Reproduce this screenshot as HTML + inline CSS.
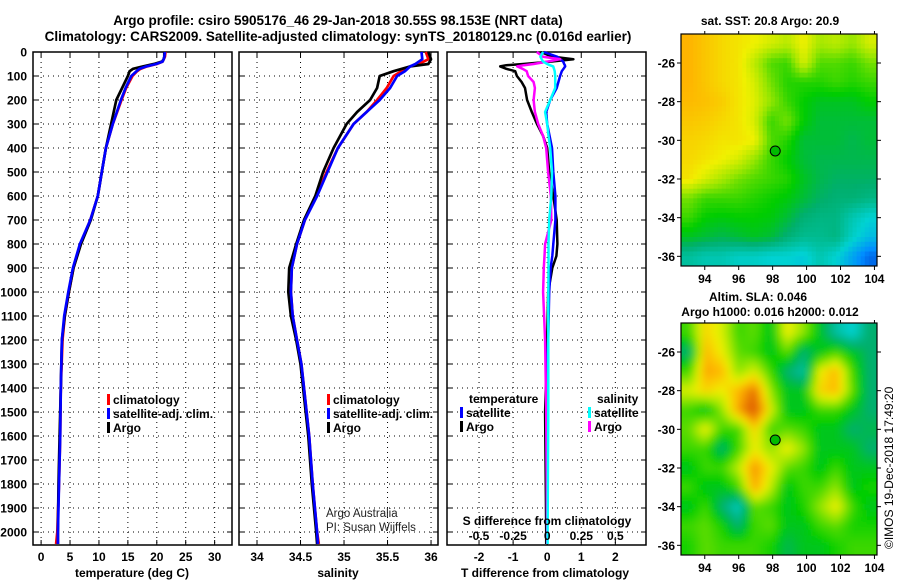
<!DOCTYPE html>
<html><head><meta charset="utf-8"><style>
html,body{margin:0;padding:0;background:#fff}
svg{display:block;font-family:"Liberation Sans",sans-serif}
.b{font-weight:bold;font-size:12px}
.t{font-weight:bold;font-size:13.5px}
</style></head><body>
<svg id="fig" width="900" height="580" viewBox="0 0 900 580" xmlns="http://www.w3.org/2000/svg">
<text class="t" x="338" y="25" text-anchor="middle">Argo profile: csiro 5905176_46 29-Jan-2018 30.55S 98.153E (NRT data)</text>
<text class="t" x="338" y="41" text-anchor="middle">Climatology: CARS2009. Satellite-adjusted climatology: synTS_20180129.nc (0.016d earlier)</text>
<g id="g"></g>
</svg>
<script>
// ---- data ----
const tDepth=[0,20,30,40,50,60,70,80,100,150,200,300,400,500,600,700,800,900,1000,1100,1200,1400,1600,1800,2000,2050];
const tClim=[21.5,21.4,21.2,21,20.0,18.3,17.2,16.6,15.8,14.7,13.9,12.4,11.2,10.5,9.8,8.5,6.8,5.6,4.8,4.1,3.7,3.4,3.3,3.1,2.8,2.6];
const tSat =[21.4,21.3,21.2,21,19.9,18.2,17.0,16.5,15.6,14.6,13.8,12.4,11.2,10.5,9.8,8.5,6.7,5.5,4.7,4.0,3.6,3.4,3.3,3.1,2.9,2.9];
const tArgo=[21.3,21.3,21.2,20.9,19.5,17.6,15.9,15.3,15.0,14.0,13.0,12.1,11.2,10.5,9.8,8.6,6.9,5.6,4.8,4.1,3.6,3.4,3.2,3.0,2.9,2.9];
const sDepth=[0,30,50,60,80,100,150,200,250,300,400,500,600,700,800,900,1000,1100,1200,1300,1400,1600,1800,2000,2050];
const sClim=[35.94,35.97,35.86,35.76,35.66,35.57,35.49,35.38,35.26,35.11,34.93,34.80,34.68,34.55,34.46,34.40,34.39,34.41,34.46,34.51,34.54,34.60,34.64,34.69,34.71];
const sSat =[35.89,35.90,35.82,35.76,35.70,35.61,35.53,35.41,35.26,35.11,34.93,34.81,34.69,34.55,34.46,34.40,34.39,34.41,34.46,34.51,34.54,34.60,34.64,34.69,34.70];
const sArgo=[35.97,36.00,35.97,35.76,35.57,35.41,35.38,35.30,35.15,35.03,34.88,34.76,34.67,34.54,34.45,34.37,34.36,34.39,34.45,34.50,34.53,34.59,34.63,34.68,34.69];
const dDepth=[0,20,30,40,50,55,60,70,80,100,125,150,200,250,300,350,400,500,600,700,800,850,900,1000,1200,1500,2000,2050];
const dT_argo=[-0.2,0.18,0.77,0.1,-0.7,-1.2,-1.38,-1.2,-0.94,-0.89,-0.75,-0.65,-0.59,-0.45,-0.3,-0.12,0,0.06,0.18,0.28,0.3,0.27,0.15,0.03,0,-0.06,-0.03,-0.03];
const dT_sat =[-0.1,0.3,0.38,0.47,0.5,0.52,0.53,0.48,0.43,0.38,0.33,0.28,0.09,-0.03,0,0.07,0.14,0.18,0.24,0.24,0.18,0.15,0.1,0.06,0.03,-0.03,0,0];
const dS_argo=[-0.076,-0.03,0.096,0,-0.1,-0.17,-0.22,-0.18,-0.15,-0.14,-0.1,-0.09,-0.1,-0.09,-0.066,-0.03,-0.007,0.007,0.027,0.03,-0.015,-0.02,-0.025,-0.03,-0.015,-0.007,0,0];
const dS_sat =[-0.03,-0.05,-0.04,-0.03,0,0.02,0.044,0.05,0.055,0.059,0.059,0.059,0.022,-0.015,0,0.01,0.022,0.035,0.03,0.015,0.01,0.01,0.01,0.008,0.008,0.008,0.003,0.003];
const yTicks=[0,100,200,300,400,500,600,700,800,900,1000,1100,1200,1300,1400,1500,1600,1700,1800,1900,2000];
const tTicks=[0,5,10,15,20,25,30];
const sTicks=[34,34.5,35,35.5,36];
const sTickLbl=["34","34.5","35","35.5","36"];
const dTTicks=[-2,-1,0,1,2];
const dSTicks=[-0.5,-0.25,0,0.25,0.5];
const dSTickLbl=["-0.5","-0.25","0","0.25","0.5"];
const lonTicks=[94,96,98,100,102,104];
const latTicks=[-26,-28,-30,-32,-34,-36];
const sstGrid=[
[0.88,0.85,0.82,0.8,0.78,0.75,0.72,0.78,0.7,0.72,0.68,0.75],
[0.88,0.85,0.82,0.8,0.72,0.62,0.6,0.75,0.62,0.62,0.6,0.65],
[0.88,0.85,0.82,0.8,0.75,0.65,0.58,0.58,0.58,0.6,0.58,0.6],
[0.87,0.86,0.84,0.8,0.76,0.68,0.6,0.55,0.52,0.52,0.52,0.55],
[0.85,0.84,0.82,0.8,0.75,0.6,0.65,0.55,0.5,0.5,0.5,0.5],
[0.83,0.82,0.8,0.8,0.78,0.62,0.58,0.5,0.5,0.5,0.48,0.5],
[0.82,0.8,0.78,0.75,0.68,0.6,0.55,0.5,0.48,0.48,0.48,0.48],
[0.8,0.75,0.7,0.65,0.62,0.6,0.58,0.52,0.48,0.46,0.46,0.46],
[0.65,0.6,0.6,0.6,0.58,0.56,0.54,0.5,0.46,0.44,0.44,0.42],
[0.6,0.55,0.54,0.55,0.55,0.54,0.5,0.44,0.42,0.42,0.35,0.3],
[0.52,0.5,0.48,0.5,0.52,0.5,0.44,0.4,0.4,0.42,0.32,0.25],
[0.38,0.35,0.35,0.32,0.32,0.3,0.3,0.28,0.35,0.3,0.2,0.1]];
const slaGrid=[
[0.6,0.75,0.7,0.6,0.62,0.55,0.72,0.65,0.55,0.45,0.4,0.5],
[0.5,0.78,0.72,0.62,0.6,0.55,0.62,0.5,0.55,0.6,0.55,0.5],
[0.6,0.8,0.78,0.65,0.7,0.6,0.5,0.45,0.72,0.78,0.6,0.5],
[0.7,0.75,0.72,0.78,0.85,0.65,0.55,0.55,0.75,0.78,0.62,0.5],
[0.6,0.55,0.65,0.8,0.9,0.7,0.55,0.55,0.6,0.6,0.55,0.5],
[0.62,0.72,0.6,0.6,0.75,0.6,0.62,0.6,0.55,0.55,0.5,0.52],
[0.6,0.6,0.5,0.6,0.72,0.65,0.72,0.65,0.55,0.55,0.55,0.5],
[0.55,0.6,0.6,0.68,0.82,0.72,0.62,0.6,0.55,0.6,0.55,0.55],
[0.6,0.55,0.55,0.6,0.8,0.68,0.55,0.6,0.6,0.65,0.55,0.58],
[0.55,0.6,0.5,0.42,0.62,0.6,0.55,0.58,0.65,0.72,0.6,0.55],
[0.6,0.62,0.58,0.5,0.6,0.62,0.55,0.55,0.6,0.62,0.58,0.58],
[0.58,0.62,0.6,0.6,0.6,0.58,0.52,0.55,0.55,0.58,0.6,0.6]];
const argoPos=[98.153,-30.55];

// ---- drawing ----
const NS='http://www.w3.org/2000/svg';
const G=document.getElementById('g');
function el(t,a,p){const e=document.createElementNS(NS,t);for(const k in a)e.setAttribute(k,a[k]);(p||G).appendChild(e);return e;}
function txt(s,a,p){const e=el('text',a,p);e.textContent=s;return e;}
const top0=52,pb=545;
const yD=d=>top0+d*0.24;
function panel(name,x0,x1,xmin,xmax){
  const g=el('g',{});
  
  
  return {g,x0,x1,sx:v=>x0+(v-xmin)/(xmax-xmin)*(x1-x0)};
}
function frame(P,xt,xl,leftLabels){
  yTicks.forEach(d=>{const y=yD(d);
    el('line',{x1:P.x0,x2:P.x1,y1:y,y2:y,stroke:'#000','stroke-dasharray':'1,4','stroke-width':1},P.g);
    el('line',{x1:P.x0,x2:P.x0+5,y1:y,y2:y,stroke:'#000'},P.g);
    el('line',{x1:P.x1,x2:P.x1-5,y1:y,y2:y,stroke:'#000'},P.g);
    if(leftLabels){const l=txt(String(d),{x:P.x0-6,y:y+4.5,'text-anchor':'end',class:'b'},P.g);
      }
  });
  xt.forEach((v,i)=>{const x=P.sx(v);
    el('line',{x1:x,x2:x,y1:top0,y2:pb,stroke:'#000','stroke-dasharray':'1,4'},P.g);
    el('line',{x1:x,x2:x,y1:pb,y2:pb-5,stroke:'#000'},P.g);
    el('line',{x1:x,x2:x,y1:top0,y2:top0+5,stroke:'#000'},P.g);
    const l=txt(xl[i],{x:x,y:561,'text-anchor':'middle',class:'b'},P.g);
    
  });
  el('rect',{x:P.x0,y:top0,width:P.x1-P.x0,height:pb-top0,fill:'none',stroke:'#000','stroke-width':1.5},P.g);
}
function line(P,xs,ds,sx,color,name,w){
  const pts=xs.map((v,i)=>sx(v).toFixed(1)+','+yD(ds[i]).toFixed(1)).join(' ');
  const e=el('polyline',{points:pts,fill:'none',stroke:color,'stroke-width':w||2.7,'stroke-linejoin':'round'},P.g);
  
  
}
function legendEntry(P,x,y,color,label,name){
  const g=el('g',{},P.g);
  
  
  el('rect',{x:x,y:y-10,width:3,height:11,fill:color},g);
  txt(label,{x:x+6,y:y,class:'b'},g);
}
const P1=panel('temperature-panel',33,232,-1.4,33);
frame(P1,tTicks,tTicks.map(String),true);
line(P1,tClim,tDepth,P1.sx,'#f00','climatology-temperature-line');
line(P1,tArgo,tDepth,P1.sx,'#000','argo-temperature-line');
line(P1,tSat,tDepth,P1.sx,'#00f','satellite-temperature-line');
legendEntry(P1,107,404,'#f00','climatology','legend-climatology');
legendEntry(P1,107,418,'#00f','satellite-adj. clim.','legend-satellite-adj');
legendEntry(P1,107,432,'#000','Argo','legend-argo');
let a=txt('temperature (deg C)',{x:132,y:577,'text-anchor':'middle',class:'b'},P1.g);

const P2=panel('salinity-panel',239,438,33.793,36.08);
frame(P2,sTicks,sTickLbl,false);
line(P2,sClim,sDepth,P2.sx,'#f00','climatology-salinity-line');
line(P2,sArgo,sDepth,P2.sx,'#000','argo-salinity-line');
line(P2,sSat,sDepth,P2.sx,'#00f','satellite-salinity-line');
legendEntry(P2,327,404,'#f00','climatology','legend-climatology-s');
legendEntry(P2,327,418,'#00f','satellite-adj. clim.','legend-satellite-adj-s');
legendEntry(P2,327,432,'#000','Argo','legend-argo-s');
a=txt('salinity',{x:338,y:577,'text-anchor':'middle',class:'b'},P2.g);

a=txt('Argo Australia',{x:326,y:517,'font-size':'11.5px',fill:'#222'},P2.g);

a=txt('PI: Susan Wijffels',{x:326,y:531,'font-size':'11.5px',fill:'#222'},P2.g);

const P3=panel('difference-panel',447,646,-2.94,2.9);
frame(P3,dTTicks,dTTicks.map(String),false);
const sxS=v=>P3.sx(v*4);
line(P3,dT_argo,dDepth,P3.sx,'#000','argo-t-diff-line',2.5);
line(P3,dT_sat,dDepth,P3.sx,'#00f','satellite-t-diff-line',2.5);
line(P3,dS_argo,dDepth,sxS,'#f0f','argo-s-diff-line',2.5);
line(P3,dS_sat,dDepth,sxS,'#0ff','satellite-s-diff-line',2.5);
dSTicks.forEach((v,i)=>{const l=txt(dSTickLbl[i],{x:sxS(v),y:540,'text-anchor':'middle',class:'b'},P3.g);
  });
a=txt('S difference from climatology',{x:547,y:525,'text-anchor':'middle',class:'b'},P3.g);

a=txt('T difference from climatology',{x:545,y:577,'text-anchor':'middle',class:'b'},P3.g);

a=txt('temperature',{x:469,y:403,class:'b'},P3.g);

a=txt('salinity',{x:597,y:403,class:'b'},P3.g);

legendEntry(P3,460,417,'#00f','satellite','legend-t-satellite');
legendEntry(P3,460,431,'#000','Argo','legend-t-argo');
legendEntry(P3,588,417,'#0ff','satellite','legend-s-satellite');
legendEntry(P3,588,431,'#f0f','Argo','legend-s-argo');
const stops=[[0,[0,40,190]],[0.15,[0,140,255]],[0.3,[0,210,210]],[0.45,[0,175,110]],[0.55,[0,205,0]],[0.68,[150,230,0]],[0.78,[240,240,0]],[0.88,[255,180,0]],[1,[225,100,0]]];
function cmap(v){v=Math.max(0,Math.min(1,v));for(let i=1;i<stops.length;i++){if(v<=stops[i][0]){const [a0,c0]=stops[i-1],[a1,c1]=stops[i];const f=(v-a0)/(a1-a0);return 'rgb('+c0.map((c,k)=>Math.round(c+(c1[k]-c)*f)).join(',')+')';}}return 'rgb(225,100,0)';}
const defs=el('defs',{});
const flt=el('filter',{id:'blur',x:'-10%',y:'-10%',width:'120%',height:'120%'},defs);
el('feGaussianBlur',{stdDeviation:'4'},flt);
function sample(grid,fr,fc){ // bilinear read of grid at fractional cell position
  const nr=grid.length,nc=grid[0].length;
  fr=Math.max(0,Math.min(nr-1,fr));fc=Math.max(0,Math.min(nc-1,fc));
  const r0=Math.floor(fr),c0=Math.floor(fc),r1=Math.min(nr-1,r0+1),c1=Math.min(nc-1,c0+1),a=fr-r0,b=fc-c0;
  return grid[r0][c0]*(1-a)*(1-b)+grid[r0][c1]*(1-a)*b+grid[r1][c0]*a*(1-b)+grid[r1][c1]*a*b;
}
function map(name,y0,y1,grid,blur,contrast,sub){
  const x0=681,x1=877;
  const g=el('g',{});
  
  
  const cid='clip'+y0;const cp=el('clipPath',{id:cid},defs);el('rect',{x:x0,y:y0,width:x1-x0,height:y1-y0},cp);
  const cg=el('g',{'clip-path':'url(#'+cid+')'},g);
  const inner=el('g',blur?{filter:'url(#blur)'}:{},cg);
  const nr=grid.length*sub,nc=grid[0].length*sub,cw=(x1-x0)/nc,ch=(y1-y0)/nr;
  for(let r=0;r<nr;r++)for(let c=0;c<nc;c++){
    let v=sample(grid,(r+0.5)/sub-0.5,(c+0.5)/sub-0.5);
    v=0.6+(v-0.6)*contrast;
    const px=x0+c*cw,py=y0+r*ch;
    el('rect',{x:(px-(blur&&c==0?8:0)).toFixed(1),y:(py-(blur&&r==0?8:0)).toFixed(1),width:(cw+0.6+(blur&&(c==0||c==nc-1)?8:0)).toFixed(1),height:(ch+0.6+(blur&&(r==0||r==nr-1)?8:0)).toFixed(1),fill:cmap(v)},inner);
  }
  const lon0=92.6,lon1=104.15,lat0=-24.5,lat1=-36.5;
  const sx=v=>x0+(v-lon0)/(lon1-lon0)*(x1-x0), sy=v=>y0+(v-lat0)/(lat1-lat0)*(y1-y0);
  el('rect',{x:x0,y:y0,width:x1-x0,height:y1-y0,fill:'none',stroke:'#000','stroke-width':1.2},g);
  lonTicks.forEach(v=>{const x=sx(v);el('line',{x1:x,x2:x,y1:y1,y2:y1+4,stroke:'#000'},g);el('line',{x1:x,x2:x,y1:y0,y2:y0-3,stroke:'#000'},g);
    const l=txt(String(v),{x:x,y:y1+17,'text-anchor':'middle',class:'b'},g);});
  latTicks.forEach(v=>{const y=sy(v);el('line',{x1:x0,x2:x0-4,y1:y,y2:y,stroke:'#000'},g);el('line',{x1:x1,x2:x1+4,y1:y,y2:y,stroke:'#000'},g);
    const l=txt(String(v),{x:x0-6,y:y+4.5,'text-anchor':'end',class:'b'},g);});
  const m=el('circle',{cx:sx(argoPos[0]),cy:sy(argoPos[1]),r:5,fill:'#0b0',stroke:'#000','stroke-width':1},g);
  
  
}
map('sst-map',34,266,sstGrid,false,1,4);
map('sla-map',323,555,slaGrid,true,1.5,3);
a=txt('sat. SST: 20.8 Argo: 20.9',{x:770,y:25,'text-anchor':'middle',class:'b'});

a=txt('Altim. SLA: 0.046',{x:758,y:301,'text-anchor':'middle',class:'b'});

a=txt('Argo h1000: 0.016 h2000: 0.012',{x:770,y:316,'text-anchor':'middle',class:'b'});

a=txt('©IMOS 19-Dec-2018 17:49:20',{x:0,y:0,'font-size':'12px',transform:'translate(893,549) rotate(-90)'});

</script>
</body></html>
